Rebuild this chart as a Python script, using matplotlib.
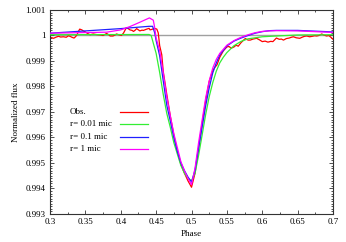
import matplotlib
matplotlib.use("Agg")
import matplotlib.pyplot as plt
from matplotlib.ticker import MultipleLocator

plt.rcParams['font.family'] = ['Liberation Serif', 'DejaVu Serif']

# observed light curve
obs_phase = [0.300, 0.303, 0.305, 0.309, 0.312, 0.315, 0.319, 0.323, 0.326, 0.329,
             0.331, 0.334, 0.336, 0.338, 0.340, 0.342, 0.345, 0.347, 0.350, 0.352,
             0.3565, 0.361, 0.365, 0.368, 0.372, 0.375, 0.380, 0.383, 0.385, 0.389,
             0.392, 0.394, 0.397, 0.401, 0.404, 0.408, 0.410, 0.413, 0.416, 0.418,
             0.420, 0.4225, 0.425, 0.427, 0.430, 0.432, 0.4367, 0.440, 0.4414, 0.444,
             0.446, 0.449, 0.451, 0.453, 0.455, 0.458, 0.460, 0.465, 0.470, 0.475,
             0.480, 0.485, 0.490, 0.495, 0.500, 0.505, 0.510, 0.515, 0.520, 0.525,
             0.530, 0.533, 0.536, 0.540, 0.545, 0.550, 0.553, 0.556, 0.560, 0.563,
             0.566, 0.570, 0.573, 0.576, 0.580, 0.583, 0.587, 0.592, 0.596, 0.600,
             0.604, 0.608, 0.612, 0.615, 0.620, 0.624, 0.627, 0.630, 0.634, 0.638,
             0.641, 0.644, 0.648, 0.653, 0.657, 0.660, 0.663, 0.667, 0.671, 0.674,
             0.677, 0.680, 0.684, 0.687, 0.691, 0.694, 0.697, 0.700]
obs_flux = [0.99993, 0.99991, 0.99989, 0.99994, 0.99997, 0.99994, 0.99995, 0.99993, 0.99999, 0.99996,
            0.99993, 0.99990, 0.99995, 1.00002, 1.00015, 1.00025, 1.00022, 1.00018, 1.00014, 1.00010,
            1.00003, 1.00006, 1.00004, 1.00003, 1.00002, 1.00000, 1.00008, 1.00003, 0.99998, 0.99998,
            1.00002, 1.00006, 1.00003, 1.00000, 1.00010, 1.00031, 1.00028, 1.00022, 1.00020, 1.00016,
            1.00020, 1.00027, 1.00022, 1.00018, 1.00021, 1.00020, 1.00025, 1.00028, 1.00022, 1.00024,
            1.00026, 1.00027, 1.00025, 1.00010, 0.99960, 0.99924, 0.99860, 0.99770, 0.99685, 0.99610,
            0.99545, 0.99495, 0.99460, 0.99430, 0.99405, 0.99460, 0.99560, 0.99655, 0.99745, 0.99820,
            0.99862, 0.99875, 0.99885, 0.99915, 0.99940, 0.99955, 0.99957, 0.99950, 0.99955, 0.99962,
            0.99958, 0.99972, 0.99980, 0.99988, 0.99982, 0.99982, 0.99986, 0.99989, 0.99983, 0.99976,
            0.99978, 0.99974, 0.99977, 0.99976, 0.99990, 0.99985, 0.99986, 0.99982, 0.99988, 0.99990,
            0.99993, 0.99995, 0.99991, 0.99989, 0.99994, 0.99997, 0.99998, 0.99995, 0.99997, 0.99999,
            0.99998, 1.00000, 1.00006, 1.00002, 0.99998, 1.00000, 0.99993, 0.99985]

# model r = 0.01 micron
m001_phase = [0.300, 0.440, 0.443, 0.447, 0.450, 0.455, 0.460, 0.465, 0.470, 0.475,
              0.480, 0.485, 0.490, 0.495, 0.500, 0.505, 0.510, 0.515, 0.520, 0.525,
              0.530, 0.535, 0.540, 0.545, 0.550, 0.560, 0.570, 0.580, 0.600, 0.620,
              0.635, 0.650, 0.700]
m001_flux = [1.00003, 1.00004, 1.00000, 0.99960, 0.99930, 0.99855, 0.99770, 0.99695, 0.99640, 0.99580,
             0.99535, 0.99490, 0.99460, 0.99440, 0.99430, 0.99460, 0.99530, 0.99610, 0.99690, 0.99760,
             0.99815, 0.99860, 0.99893, 0.99915, 0.99933, 0.99960, 0.99977, 0.99987, 0.99995, 0.99998,
             1.00000, 1.00002, 1.00003]

# model r = 0.1 micron
m01_phase = [0.300, 0.350, 0.400, 0.440, 0.445, 0.448, 0.450, 0.455, 0.460, 0.465,
             0.470, 0.475, 0.480, 0.485, 0.490, 0.495, 0.500, 0.505, 0.510, 0.515,
             0.520, 0.525, 0.530, 0.535, 0.540, 0.550, 0.560, 0.570, 0.580, 0.590,
             0.600, 0.610, 0.620, 0.650, 0.700]
m01_flux = [1.00009, 1.00018, 1.00027, 1.00036, 1.00036, 1.00010, 0.99980, 0.99920, 0.99823, 0.99727,
            0.99665, 0.99600, 0.99545, 0.99500, 0.99470, 0.99445, 0.99425, 0.99473, 0.99559, 0.99641,
            0.99724, 0.99794, 0.99853, 0.99892, 0.99924, 0.99959, 0.99978, 0.99990, 1.00000, 1.00009,
            1.00015, 1.00019, 1.00020, 1.00020, 1.00014]

# model r = 1 micron
m1_phase = [0.300, 0.380, 0.400, 0.413, 0.427, 0.4405, 0.446, 0.448, 0.450, 0.455,
            0.460, 0.465, 0.470, 0.475, 0.480, 0.485, 0.490, 0.495, 0.500, 0.505,
            0.510, 0.515, 0.520, 0.525, 0.530, 0.535, 0.540, 0.550, 0.560, 0.570,
            0.580, 0.590, 0.600, 0.610, 0.620, 0.650, 0.700]
m1_flux = [1.00009, 1.00013, 1.00022, 1.00035, 1.00052, 1.00069, 1.00060, 1.00030, 0.99990, 0.99940,
           0.99855, 0.99760, 0.99685, 0.99615, 0.99560, 0.99505, 0.99470, 0.99440, 0.99415, 0.99480,
           0.99580, 0.99668, 0.99755, 0.99822, 0.99872, 0.99906, 0.99930, 0.99962, 0.99980, 0.99993,
           1.00003, 1.00011, 1.00016, 1.00018, 1.00019, 1.00018, 1.00012]

xticks = [0.3, 0.35, 0.4, 0.45, 0.5, 0.55, 0.6, 0.65, 0.7]
xticklabels = ['0.3', '0.35', '0.4', '0.45', '0.5', '0.55', '0.6', '0.65', '0.7']
yticks = [0.993, 0.994, 0.995, 0.996, 0.997, 0.998, 0.999, 1.0, 1.001]
yticklabels = ['0.993', '0.994', '0.995', '0.996', '0.997', '0.998', '0.999', '1', '1.001']

labels = ['Obs.', 'r= 0.01 mic', 'r= 0.1 mic', 'r= 1 mic']
colors = ['#ff0000', '#33ee33', '#2020ff', '#ff00ff']

fig = plt.figure(figsize=(3.46, 2.42), dpi=100)
ax = fig.add_axes([0.1445, 0.1157, 0.818, 0.843])

ax.axhline(1.0, color='#a0a0a0', lw=1.0, zorder=1)
series = [(obs_phase, obs_flux), (m001_phase, m001_flux),
          (m01_phase, m01_flux), (m1_phase, m1_flux)]
for i, (ph, fl) in enumerate(series):
    ax.plot(ph, fl, color=colors[i], lw=0.9, zorder=2 + i)

# gnuplot-like key: text left aligned, sample line to the right
for i, lab in enumerate(labels):
    yk = 0.50 - i * 0.0605
    ax.text(0.071, yk, lab, transform=ax.transAxes, fontsize=6.5,
            ha='left', va='center')
    ax.plot([0.247, 0.346], [yk, yk], transform=ax.transAxes,
            color=colors[i], lw=0.9)

ax.set_xlim(0.3, 0.7)
ax.set_ylim(0.993, 1.001)
ax.set_xticks(xticks)
ax.set_xticklabels(xticklabels)
ax.set_yticks(yticks)
ax.set_yticklabels(yticklabels)
ax.xaxis.set_minor_locator(MultipleLocator(0.025))
ax.yaxis.set_minor_locator(MultipleLocator(0.0001))
ax.tick_params(which='both', direction='in', top=True, right=True, labelsize=6.5,
               width=0.6, color='#333333', pad=3)
ax.tick_params(which='major', length=3)
ax.tick_params(which='minor', length=1.5)
for s in ax.spines.values():
    s.set_linewidth(0.8)
    s.set_color('#333333')

ax.set_xlabel('Phase', fontsize=6.5, labelpad=3)
ax.set_ylabel('Normalized flux', fontsize=6.5, labelpad=4)

fig.savefig('out.png', dpi=100)
